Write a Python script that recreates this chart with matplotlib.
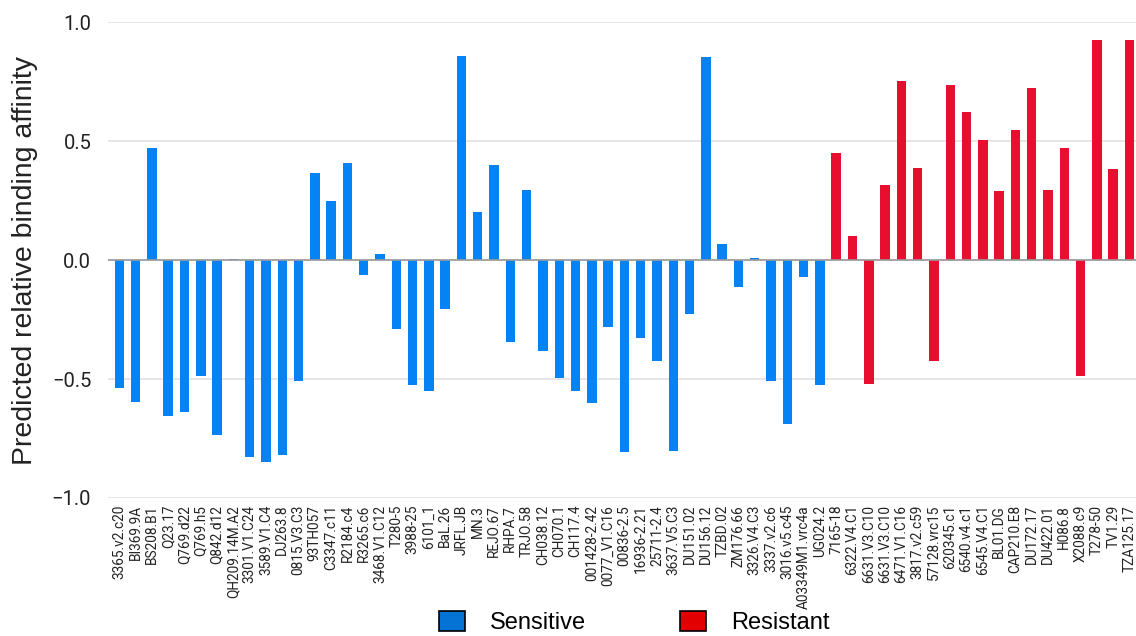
#!/usr/bin/env python3
"""Predicted relative binding affinity per virus strain, sensitive vs resistant."""

import matplotlib.pyplot as plt
from matplotlib.patches import Patch
import numpy as np

sensitive_strains = [
    "3365.v2.c20", "BI369.9A", "BS208.B1", "Q23.17", "Q769.d22", "Q769.h5",
    "Q842.d12", "QH209.14M.A2", "3301.V1.C24", "3589.V1.C4", "DJ263.8",
    "0815.V3.C3", "93TH057", "C3347.c11", "R2184.c4", "R3265.c6",
    "3468.V1.C12", "T280-5", "3988-25", "6101_1", "BaL.26", "JRFL.JB",
    "MN.3", "REJO.67", "RHPA.7", "TRJO.58", "CH038.12", "CH070.1",
    "CH117.4", "001428-2.42", "0077_V1.C16", "00836-2.5", "16936-2.21",
    "25711-2.4", "3637.V5.C3", "DU151.02", "DU156.12", "TZBD.02",
    "ZM176.66", "3326.V4.C3", "3337.v2.c6", "3016.v5.c45",
    "A03349M1.vrc4a", "UG024.2",
]
sensitive_values = [
    -0.539, -0.595, 0.471, -0.655, -0.639, -0.487, -0.737, 0.004, -0.829,
    -0.850, -0.818, -0.507, 0.366, 0.247, 0.408, -0.064, 0.027, -0.290,
    -0.525, -0.549, -0.207, 0.858, 0.204, 0.401, -0.345, 0.293, -0.382,
    -0.496, -0.549, -0.600, -0.283, -0.808, -0.329, -0.426, -0.801,
    -0.227, 0.854, 0.067, -0.115, 0.011, -0.508, -0.688, -0.069, -0.525,
]

resistant_strains = [
    "7165-18", "6322.V4.C1", "6631.V3.C10", "6631.V3.C10", "6471.V1.C16",
    "3817.v2.c59", "57128.vrc15", "620345.c1", "6540.v4.c1", "6545.V4.C1",
    "BL01.DG", "CAP210.E8", "DU172.17", "DU422.01", "H086.8", "X2088.c9",
    "T278-50", "TV1.29", "TZA125.17",
]
resistant_values = [
    0.451, 0.102, -0.521, 0.315, 0.755, 0.388, -0.426, 0.738, 0.623, 0.504,
    0.291, 0.548, 0.723, 0.293, 0.471, -0.489, 0.926, 0.385, 0.927,
]

plt.rcParams["font.family"] = ["Roboto", "DejaVu Sans"]
ARIAL = ["Liberation Sans", "DejaVu Sans"]

BLUE = "#0583F4"
RED = "#E70E2F"

labels = sensitive_strains + resistant_strains
n_sens = len(sensitive_strains)
x_sens = np.arange(n_sens)
x_res = np.arange(n_sens, len(labels))

fig = plt.figure(figsize=(11.36, 6.36), dpi=100)
ax = fig.add_axes([0.095, 0.217, 0.905, 0.748])

ax.bar(x_sens, sensitive_values, width=0.58, color=BLUE, zorder=3)
ax.bar(x_res, resistant_values, width=0.58, color=RED, zorder=3)

ax.set_xlim(-0.7, len(labels) - 0.6)
ax.set_ylim(-1.0, 1.0)
ax.set_yticks([-1.0, -0.5, 0.0, 0.5, 1.0])
ax.set_yticklabels(["\u22121.0", "\u22120.5", "0.0", "0.5", "1.0"])
ax.set_xticks(np.arange(len(labels)))
ax.set_xticklabels(labels, rotation=90, fontsize=9.8, color="#222222")
ax.tick_params(axis="y", length=0, pad=12, labelsize=14.5, labelcolor="#222222")
ax.tick_params(axis="x", length=0, pad=5)

ax.grid(axis="y", color="#e2e2e2", linewidth=1.2, zorder=0)
ax.axhline(0, color="#9a9a9a", linewidth=1.2, zorder=4)
for side in ("top", "right", "left", "bottom"):
    ax.spines[side].set_visible(False)

ax.set_ylabel("Predicted relative binding affinity", fontsize=20.5, color="#222222",
              labelpad=10, family=ARIAL)

handles = [
    Patch(facecolor="#0572D6", edgecolor="black", linewidth=1.2, label="Sensitive"),
    Patch(facecolor="#E30000", edgecolor="black", linewidth=1.2, label="Resistant"),
]
fig.legend(handles=handles, loc="center", bbox_to_anchor=(0.5585, 0.021), ncol=2,
           frameon=False, prop={"family": ARIAL, "size": 17}, handlelength=1.1,
           handleheight=0.9, handletextpad=1.05, columnspacing=4.0)

fig.savefig("out.png", dpi=100)
